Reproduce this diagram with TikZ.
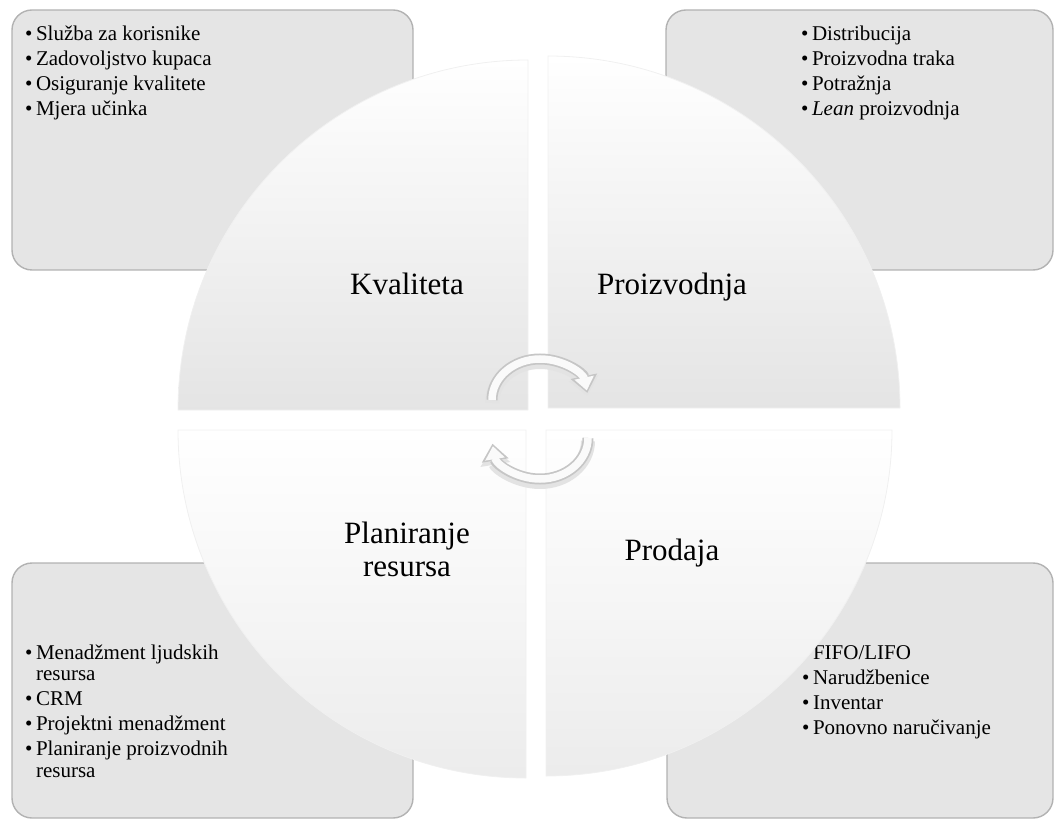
\documentclass[tikz,border=0pt]{standalone}
\usepackage{fontspec}
\setmainfont{Liberation Serif}
\usepackage{tikz}
\usetikzlibrary{arrows.meta}
\tikzset{
    infobox/.style={fill=gray!20, draw=gray!60, line width=1.4pt, rounded corners=20pt},
    quarter/.style={draw=gray!12, line width=0.8pt},
    upperquarter/.style={quarter, top color=white, middle color=gray!5, bottom color=gray!21},
    lowerquarter/.style={quarter, top color=white, middle color=white, bottom color=gray!15},
    titletext/.style={font=\fontsize{31}{33}\selectfont, inner sep=0pt, align=center},
    bulletlist/.style={font=\fontsize{21}{25}\selectfont, inner sep=0pt, anchor=base west},
    arrowshadow/.style={draw=gray!22, line width=14pt, -{Triangle[length=18pt, width=29pt]}},
    arrowrim/.style={draw=gray!45, line width=11pt, -{Triangle[length=17pt, width=26pt]}},
    arrowcore/.style={draw=gray!4, line width=7.5pt, shorten >=2.5pt, -{Triangle[length=13pt, width=19pt]}}
}

\begin{document}
\begin{tikzpicture}[x=1pt, y=1pt]

            \useasboundingbox (0,0) rectangle (1056,820);

            % boxes behind the circle
            \draw[infobox] (12,550) rectangle (413,810);
            \draw[infobox] (666,550) rectangle (1053,810);
            \draw[infobox] (12,2) rectangle (413,257);
            \draw[infobox] (667,2) rectangle (1053,257);

            \node[bulletlist] (LK) at (25,779) {\begin{tabular}[t]{@{}l@{\hspace{3.5pt}}l@{}}
                \textbullet & Služba za korisnike\\
                \textbullet & Zadovoljstvo kupaca\\
                \textbullet & Osiguranje kvalitete\\
                \textbullet & Mjera učinka
            \end{tabular}};
            \node[bulletlist] (LP) at (801,779) {\begin{tabular}[t]{@{}l@{\hspace{3.5pt}}l@{}}
                \textbullet & Distribucija\\
                \textbullet & Proizvodna traka\\
                \textbullet & Potražnja\\
                \textbullet & \textit{Lean} proizvodnja
            \end{tabular}};
            \node[bulletlist] (LR) at (25,161) {\begin{tabular}[t]{@{}l@{\hspace{3.5pt}}l@{}}
                \textbullet & Menadžment ljudskih\\[-3.5pt]
                            & resursa\\
                \textbullet & CRM\\
                \textbullet & Projektni menadžment\\
                \textbullet & Planiranje proizvodnih\\[-3.5pt]
                            & resursa
            \end{tabular}};
            \node[bulletlist] (LD) at (802,161) {\begin{tabular}[t]{@{}l@{\hspace{3.5pt}}l@{}}
                \textbullet & FIFO/LIFO\\
                \textbullet & Narudžbenice\\
                \textbullet & Inventar\\
                \textbullet & Ponovno naručivanje
            \end{tabular}};

            % four quarters of the circle
            \draw[upperquarter] (528,410) -- (178,410) arc[start angle=180, end angle=90, radius=350] -- cycle;
            \draw[upperquarter] (548,412) -- (900,412) arc[start angle=0, end angle=90, radius=352] -- cycle;
            \draw[lowerquarter] (526,390) -- (178,390) arc[start angle=180, end angle=270, radius=348] -- cycle;
            \draw[lowerquarter] (546,390) -- (892,390) arc[start angle=0, end angle=-90, radius=346] -- cycle;

            \node[titletext, anchor=base] (K) at (407,525) {Kvaliteta};
            \node[titletext, anchor=base] (P) at (672,525) {Proizvodnja};
            \node[titletext, anchor=center] (R) at (407,271) {Planiranje\\resursa};
            \node[titletext, anchor=base] (D) at (672,260) {Prodaja};

            % cycle arrows in the middle
            \draw[arrowshadow] (492,417) arc[start angle=180, end angle=10, x radius=48, y radius=41];
            \draw[arrowrim] (492,420) arc[start angle=180, end angle=10, x radius=48, y radius=41];
            \draw[arrowcore] (492,420) arc[start angle=180, end angle=10, x radius=48, y radius=41];

            \draw[arrowshadow] (588,379) arc[start angle=0, end angle=-172, x radius=48, y radius=41];
            \draw[arrowrim] (588,382) arc[start angle=0, end angle=-172, x radius=48, y radius=41];
            \draw[arrowcore] (588,382) arc[start angle=0, end angle=-172, x radius=48, y radius=41];

        \end{tikzpicture}
\end{document}
